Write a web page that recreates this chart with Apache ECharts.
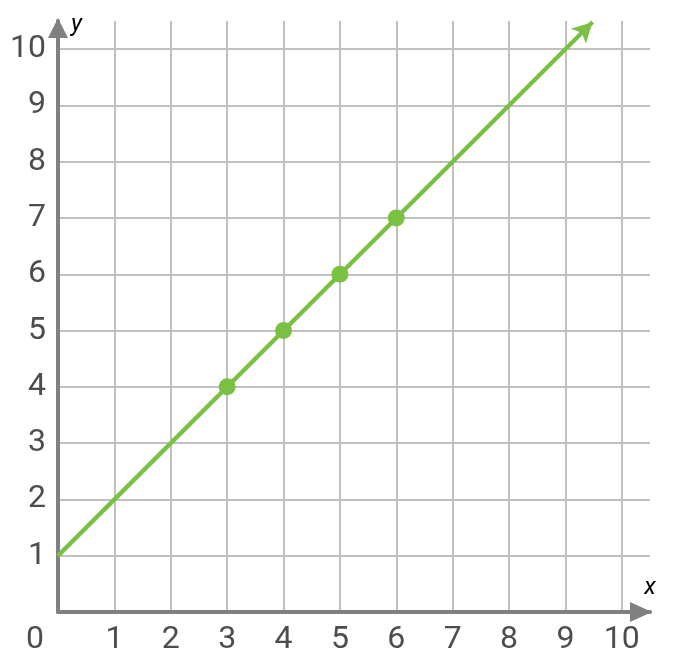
<!DOCTYPE html>
<html>
<head>
<meta charset="utf-8">
<script src="https://cdn.jsdelivr.net/npm/echarts@6/dist/echarts.min.js"></script>
<style>
  html, body { margin: 0; padding: 0; background: #fff; }
  #chart { width: 674px; height: 668px; }
</style>
</head>
<body>
<div id="chart"></div>
<script>
// line y = x + 1, drawn from the y-intercept up to the arrow tip
const lineX = [0, 9.48]
const lineY = [1, 10.48]
// marked points on the line
const pointX = [3, 4, 5, 6]
const pointY = [4, 5, 6, 7]
// axis range and tick step
const axisMin = 0
const axisMax = 10.5
const tickStep = 1

const green = '#7ac143'
const labelColor = '#4d4d4d'
const labelFont = 'Roboto'

const chart = echarts.init(document.getElementById('chart'))

const axisCommon = {
  type: 'value',
  min: axisMin,
  max: axisMax,
  interval: tickStep,
  nameGap: 0,
  axisTick: { show: false },
  axisLine: {
    show: true,
    onZero: false,
    symbol: ['none', 'triangle'],
    lineStyle: { color: '#808080', width: 4 }
  },
  splitLine: {
    show: true,
    showMinLine: false,
    showMaxLine: false,
    lineStyle: { color: '#c0c0c0', width: 2 }
  }
}

chart.setOption({
  animation: false,
  grid: { left: 58, right: 24, top: 21, bottom: 56, containLabel: false },
  xAxis: Object.assign({}, axisCommon, {
    name: 'x',
    nameLocation: 'end',
    nameTextStyle: {
      fontFamily: labelFont, fontStyle: 'italic', fontSize: 24, color: '#000',
      align: 'center', verticalAlign: 'bottom', padding: [0, 0, 12, 0]
    },
    axisLine: Object.assign({}, axisCommon.axisLine, { symbolSize: [20, 22], symbolOffset: [0, -9] }),
    axisLabel: {
      margin: 12,
      fontFamily: labelFont, fontSize: 32, color: labelColor,
      formatter: v => v > 10 ? '' : (v === 0 ? '{o|0}' : String(v)),
      rich: { o: { fontFamily: labelFont, fontSize: 32, color: labelColor, padding: [0, 46, 0, 0] } }
    }
  }),
  yAxis: Object.assign({}, axisCommon, {
    name: 'y',
    nameLocation: 'end',
    nameGap: -4,
    nameTextStyle: {
      fontFamily: labelFont, fontStyle: 'italic', fontSize: 24, color: '#000',
      align: 'left', verticalAlign: 'middle', padding: [0, 0, 0, 13]
    },
    axisLine: Object.assign({}, axisCommon.axisLine, { symbolSize: [20, 20], symbolOffset: [0, -7] }),
    axisLabel: {
      margin: 12,
      fontFamily: labelFont, fontSize: 32, color: labelColor,
      formatter: v => (v === 0 || v > 10) ? '' : String(v)
    }
  }),
  series: [
    {
      type: 'line',
      data: lineX.map((x, i) => [x, lineY[i]]),
      showSymbol: false,
      lineStyle: { color: green, width: 4 },
      markLine: {
        silent: true,
        symbol: ['none', 'arrow'],
        symbolSize: [16, 20],
        label: { show: false },
        lineStyle: { color: green, width: 4, type: 'solid', opacity: 1 },
        data: [[{ coord: [lineX[0], lineY[0]] }, { coord: [lineX[1], lineY[1]] }]]
      }
    },
    {
      type: 'scatter',
      data: pointX.map((x, i) => [x, pointY[i]]),
      symbol: 'circle',
      symbolSize: 17,
      itemStyle: { color: green, opacity: 1 },
      z: 5
    }
  ]
})

window.addEventListener('resize', () => chart.resize())
</script>
</body>
</html>
